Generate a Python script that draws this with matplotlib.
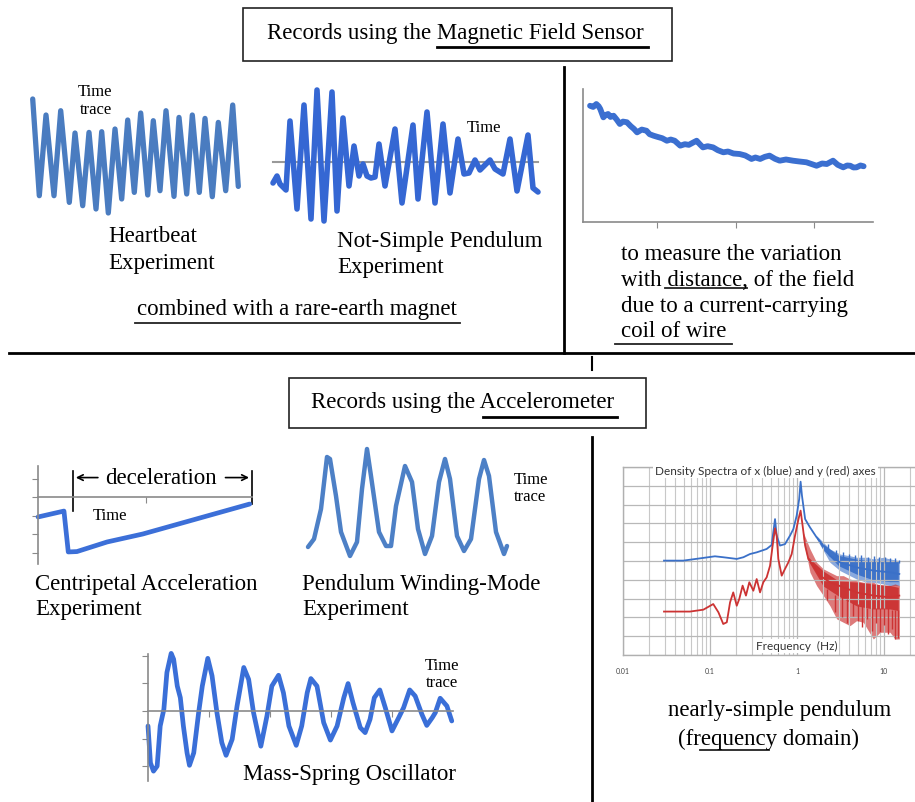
import numpy as np
import matplotlib.pyplot as plt

W, H = 915, 803
plt.rcParams['font.family'] = ['Liberation Serif', 'DejaVu Serif']

# ---------------- data ----------------
# heartbeat (magnetic field sensor), time in arbitrary units
heart_t = [1.27, 1.93, 2.6, 3.4, 4.07, 4.93, 5.5, 6.27, 6.9, 7.6, 8.17, 8.83, 9.5, 10.17,
           10.77, 11.43, 12.07, 12.77, 13.33, 14.0, 14.6, 15.4, 15.9, 16.67, 17.23, 17.93,
           18.5, 19.23, 19.83, 20.57, 21.27, 21.83]
heart_s = [11.67, 2.0, 10.07, 2.0, 10.5, 1.33, 8.27, 1.0, 8.33, 0.67, 8.4, 0.27, 8.67, 1.67,
           9.57, 2.33, 10.27, 2.07, 9.5, 2.5, 10.5, 1.93, 9.83, 2.17, 10.07, 2.33, 9.73, 1.9,
           9.33, 2.5, 11.07, 2.93]

# not-simple pendulum
pend_t = [0.8, 1.2, 1.5, 2.1, 2.5, 3.2, 3.9, 4.6, 5.2, 5.9, 6.7, 7.2, 7.8, 8.4, 8.9, 9.4, 9.8,
          10.2, 10.6, 11.0, 11.4, 12.0, 13.0, 13.7, 14.8, 15.3, 16.2, 17.0, 17.8, 18.5, 19.3,
          19.9, 20.4, 21.0, 21.5, 22.5, 23.0, 23.8, 24.5, 25.2, 26.3, 26.8, 27.3]
pend_s = [-2.1, -1.4, -2.2, -2.8, 4.1, -4.7, 5.7, -5.7, 7.2, -5.9, 7.0, -4.9, 4.4, -2.4, 1.6,
          -1.4, -0.2, -1.4, -1.6, -1.5, 1.8, -2.4, 3.3, -4.1, 3.7, -3.7, 5.0, -4.1, 3.8, -3.1,
          2.3, -1.2, -1.1, 0.2, -0.8, 0.2, -0.7, -1.2, 2.3, -2.9, 2.7, -2.6, -3.0]

# field versus distance from the coil
dist = [1.4, 1.8, 2.2, 2.5, 2.7, 3.1, 3.4, 3.7, 4.0, 4.4, 4.8, 5.2, 5.6, 6.1, 6.6, 7.0, 7.4,
        8.0, 8.6, 9.0, 9.5, 10.0, 10.6, 11.2, 11.7, 12.2, 12.9, 13.5, 14.0, 14.6, 15.0, 15.4,
        15.8, 16.4, 17.1, 17.7, 18.4, 19.0, 19.7, 20.5, 21.2, 22.0, 22.5, 23.1, 23.7, 24.3,
        25.0, 25.6, 26.4, 27.3, 28.1, 29.0, 29.7, 30.3, 31.0, 31.6, 32.4, 33.0, 33.7, 34.2,
        34.6, 35.0, 35.4, 35.9, 36.3]
field = [8.74, 8.65, 8.87, 8.7, 8.5, 7.87, 8.05, 8.12, 7.9, 7.99, 7.7, 7.37, 7.55, 7.5, 7.2,
         7.0, 6.74, 6.95, 6.86, 6.6, 6.49, 6.4, 6.3, 6.11, 6.2, 6.11, 5.74, 5.85, 5.8, 5.99,
         6.11, 5.85, 5.61, 5.7, 5.61, 5.4, 5.24, 5.3, 5.15, 5.11, 5.0, 4.74, 4.85, 4.74, 4.9,
         4.99, 4.75, 4.61, 4.7, 4.61, 4.55, 4.49, 4.35, 4.23, 4.4, 4.36, 4.61, 4.3, 4.11, 4.25,
         4.23, 4.1, 4.11, 4.25, 4.19]

# centripetal acceleration
cent_t = [0, 1.2, 1.4, 1.8, 3.2, 4.85, 6.5, 8.15, 9.8]
cent_a = [-1.08, -0.76, -2.97, -2.95, -2.43, -2.0, -1.46, -0.92, -0.38]

# pendulum winding mode
wind_t = [0.8, 1.4, 2.1, 2.7, 3.0, 3.6, 4.1, 5.0, 5.7, 6.2, 6.7, 7.1, 7.9, 8.6, 9.1, 9.6, 10.5,
          11.2, 11.8, 12.5, 13.2, 13.9, 14.5, 15.0, 15.7, 16.4, 17.1, 17.9, 18.4, 18.9, 19.6,
          20.4, 20.7]
wind_s = [1.2, 2.0, 5.0, 10.2, 10.0, 6.3, 2.7, 0.3, 1.7, 7.0, 11.0, 8.3, 2.7, 1.3, 1.3, 5.3,
          9.3, 7.7, 3.0, 0.5, 2.3, 7.7, 10.0, 8.0, 2.3, 0.8, 2.0, 8.0, 9.9, 8.3, 2.7, 0.5, 1.3]

# mass-spring oscillator
ms_t = [0, 0.04, 0.09, 0.15, 0.20, 0.26, 0.31, 0.38, 0.42, 0.48, 0.53, 0.58, 0.64, 0.68, 0.75,
        0.83, 0.89, 0.98, 1.05, 1.13, 1.21, 1.28, 1.38, 1.46, 1.57, 1.65, 1.73, 1.80, 1.85,
        1.95, 2.03, 2.14, 2.22, 2.31, 2.43, 2.52, 2.61, 2.67, 2.77, 2.88, 2.99, 3.10, 3.21,
        3.28, 3.36, 3.48, 3.56, 3.64, 3.71, 3.80, 3.89, 4.00, 4.11, 4.19, 4.29, 4.38, 4.49,
        4.57, 4.66, 4.71, 4.79, 4.90, 4.98]
ms_s = [-0.54, -1.87, -2.17, -1.99, -0.54, 0.06, 1.39, 2.08, 1.87, 0.90, 0.48, -0.54, -1.51,
        -1.96, -1.51, -0.06, 0.90, 1.90, 1.27, -0.06, -1.14, -1.60, -1.02, 0.18, 1.57, 1.14,
        -0.06, -0.78, -1.27, -0.18, 0.90, 1.29, 0.66, -0.54, -1.24, -0.54, 0.66, 1.17, 0.90,
        -0.42, -1.05, -0.54, 0.48, 0.99, 0.30, -0.60, -0.78, -0.30, 0.48, 0.76, 0.12, -0.72,
        -0.24, 0.12, 0.76, 0.54, -0.12, -0.52, -0.24, -0.06, 0.46, 0.18, -0.36]

# density spectra (log10 of PSD, arbitrary units)
blue_f = [0.0296, 0.0493, 0.0767, 0.114, 0.142, 0.203, 0.242, 0.288, 0.344, 0.393, 0.448,
          0.511, 0.559, 0.584, 0.638, 0.728, 0.831, 0.908, 0.991, 1.06, 1.10, 1.14, 1.24,
          1.41, 1.68, 2.01, 2.39, 3.12, 4.85, 7.54, 11.7, 15.0]
blue_lp = [5.02, 5.02, 5.14, 5.25, 5.20, 5.11, 5.20, 5.37, 5.46, 5.55, 5.64, 5.85, 7.23, 6.35,
           5.82, 5.90, 6.35, 6.70, 7.41, 8.30, 9.22, 8.48, 7.23, 6.79, 6.26, 5.82, 5.28, 4.93,
           4.66, 4.49, 4.40, 4.31]
# noisy band: outer envelope and dense core
blue_band_f = [1.68, 2.01, 2.39, 3.12, 4.06, 4.85, 6.32, 7.54, 9.83, 11.7, 15.0]
blue_band_hi = [6.35, 5.99, 5.64, 5.37, 5.28, 5.20, 5.20, 5.11, 5.20, 5.11, 5.02]
blue_band_lo = [6.17, 5.55, 4.93, 4.49, 4.22, 4.04, 3.87, 3.87, 3.78, 3.69, 3.69]
blue_core_f = [1.68, 2.0, 3.0, 4.85, 7.5, 11.7, 14.6]
blue_core_hi = [6.3, 5.9, 5.3, 5.1, 5.0, 5.0, 5.0]
blue_core_lo = [6.22, 5.6, 4.75, 4.3, 4.0, 3.9, 3.9]
blue_spike_f = [2.3, 2.8, 3.4, 4.0, 4.7, 5.5, 6.5, 7.6, 8.8, 10.2, 11.7, 13.3, 14.8]
blue_spike_lo = [5.4, 5.2, 5.1, 5.0, 5.0, 4.95, 4.95, 4.9, 4.9, 4.9, 4.9, 4.9, 4.9]
blue_spike_hi = [5.9, 5.6, 5.5, 5.35, 5.3, 5.3, 5.2, 5.25, 5.2, 5.2, 5.15, 5.15, 5.05]

red_f = [0.0296, 0.0589, 0.0838, 0.109, 0.125, 0.142, 0.156, 0.170, 0.185, 0.203, 0.217,
         0.237, 0.259, 0.283, 0.315, 0.344, 0.376, 0.410, 0.448, 0.490, 0.525, 0.559, 0.584,
         0.610, 0.667, 0.728, 0.796, 0.869, 0.949, 1.04, 1.10, 1.16, 1.24, 1.35, 1.54, 1.84,
         2.39, 3.41, 4.85, 7.54, 11.7, 15.0]
red_lp = [2.31, 2.31, 2.41, 2.71, 2.27, 1.65, 1.74, 2.80, 3.33, 2.62, 2.98, 3.69, 3.16, 3.87,
          3.42, 4.04, 3.33, 3.87, 4.13, 4.75, 5.82, 6.74, 6.35, 5.11, 4.22, 4.58, 4.93, 5.37,
          6.35, 7.23, 7.68, 6.88, 5.82, 5.11, 4.75, 4.22, 3.87, 3.60, 3.33, 3.16, 3.07, 3.16]
red_band_f = [1.18, 1.41, 1.68, 2.01, 2.39, 2.86, 3.41, 4.06, 4.85, 5.78, 7.54, 9.0, 11.7,
              13.4, 15.0]
red_band_hi = [6.53, 5.64, 4.93, 4.58, 4.40, 4.22, 4.22, 4.04, 3.95, 3.87, 3.87, 3.69, 3.69,
               3.78, 3.69]
red_band_lo = [6.17, 4.40, 3.69, 3.16, 2.62, 1.92, 1.74, 1.56, 1.83, 1.74, 0.85, 1.21, 1.21,
               0.85, 0.85]
red_core_f = [1.35, 2.0, 3.0, 4.85, 7.5, 11.7, 14.6]
red_core_hi = [5.2, 4.47, 3.94, 3.88, 3.78, 3.7, 3.6]
red_core_lo = [5.0, 3.67, 3.14, 2.61, 2.45, 2.45, 2.36]
red_spike_f = [2.2, 2.7, 3.3, 3.8, 4.4, 5.0, 5.6, 6.4, 7.2, 8.0, 9.0, 10.0, 11.0, 12.2, 13.4,
               14.6]
red_spike_hi = [3.5, 3.2, 3.1, 3.0, 2.8, 2.7, 2.6, 2.5, 2.5, 2.5, 2.5, 2.5, 2.5, 2.4, 2.4, 2.4]
red_spike_lo = [2.9, 2.3, 2.0, 1.7, 2.1, 1.8, 1.5, 1.9, 1.3, 1.7, 1.2, 1.6, 1.1, 1.4, 0.85, 0.9]

freq_ticks = [0.01, 0.1, 1, 10]
freq_tick_labels = ['0.01', '0.1', '1', '10']

# ---------------- figure ----------------
fig = plt.figure(figsize=(W / 100, H / 100), dpi=100)
bg = fig.add_axes([0, 0, 1, 1])
bg.set_xlim(0, W)
bg.set_ylim(H, 0)
bg.axis('off')


def panel(x0, y0, x1, y1):
    ax = fig.add_axes([x0 / W, 1 - y1 / H, (x1 - x0) / W, (y1 - y0) / H])
    ax.patch.set_alpha(0)
    return ax


def trace(ax, x, y, color, lw):
    ax.plot(x, y, color=color, lw=lw, solid_joinstyle='round', solid_capstyle='round')


def p10(v):
    return 10.0 ** np.asarray(v)


BIG = 16.5
SMALL = 12

# frames and dividers
bg.add_patch(plt.Rectangle((243, 9), 429, 53, fill=False, lw=1.2, ec='#222'))
bg.add_patch(plt.Rectangle((289, 379), 357, 50, fill=False, lw=1.2, ec='#222'))
bg.plot([9, 915], [354, 354], color='black', lw=2)
bg.plot([564, 564], [68, 354], color='black', lw=2)
bg.plot([592, 592], [358, 371], color='black', lw=1.5)
bg.plot([592, 592], [438, 803], color='black', lw=2)

# headings
bg.text(455, 33, 'Records using the Magnetic Field Sensor', fontsize=BIG, ha='center', va='center')
bg.plot([437, 648], [48, 48], color='black', lw=2)
bg.text(463, 403, 'Records using the Accelerometer', fontsize=BIG, ha='center', va='center')
bg.plot([483, 617], [418, 418], color='black', lw=2)

# labels, top half
bg.text(95, 92, 'Time', fontsize=SMALL, ha='center', va='center')
bg.text(96, 110, 'trace', fontsize=SMALL, ha='center', va='center')
bg.text(108, 236, 'Heartbeat', fontsize=BIG, va='center')
bg.text(108, 264, 'Experiment', fontsize=BIG, va='center')
bg.text(467, 128, 'Time', fontsize=SMALL, va='center')
bg.text(337, 242, 'Not-Simple Pendulum', fontsize=BIG, va='center')
bg.text(337, 268, 'Experiment', fontsize=BIG, va='center')
bg.text(137, 310, 'combined with a rare-earth magnet', fontsize=BIG, va='center')
bg.plot([135, 460], [324, 324], color='#222', lw=1.3)
for yy, line in zip([255, 281, 307, 332],
                    ['to measure the variation', 'with distance, of the field',
                     'due to a current-carrying', 'coil of wire']):
    bg.text(621, yy, line, fontsize=BIG, va='center')
bg.plot([665, 747], [289, 289], color='#222', lw=1.3)
bg.plot([615, 732], [345, 345], color='#222', lw=1.3)

# labels, bottom half
bg.text(35, 585, 'Centripetal Acceleration', fontsize=BIG, va='center')
bg.text(35, 610, 'Experiment', fontsize=BIG, va='center')
bg.text(302, 585, 'Pendulum Winding-Mode', fontsize=BIG, va='center')
bg.text(302, 610, 'Experiment', fontsize=BIG, va='center')
bg.text(514, 480, 'Time', fontsize=SMALL, va='center')
bg.text(514, 497, 'trace', fontsize=SMALL, va='center')
bg.text(425, 666, 'Time', fontsize=SMALL, va='center')
bg.text(426, 683, 'trace', fontsize=SMALL, va='center')
bg.text(243, 775, 'Mass-Spring Oscillator', fontsize=BIG, va='center')
bg.text(668, 711, 'nearly-simple pendulum', fontsize=BIG, va='center')
bg.text(678, 739, '(frequency domain)', fontsize=BIG, va='center')
bg.plot([700, 769], [751, 751], color='#222', lw=1.3)

# ---- heartbeat ----
ax = panel(20, 60, 250, 230)
ax.set_xlim(0, 23)
ax.set_ylim(-1.33, 15.67)
ax.axis('off')
trace(ax, heart_t, heart_s, '#4a7cc0', 3.8)

# ---- not-simple pendulum ----
ax = panel(265, 85, 545, 225)
ax.set_xlim(0, 28)
ax.set_ylim(-6.2, 7.8)
ax.axis('off')
ax.plot([pend_t[0], pend_t[-1]], [0, 0], color='#999999', lw=1.5)
trace(ax, pend_t, pend_s, '#3567d3', 4)

# ---- field vs distance ----
ax = panel(583, 90, 873, 223)
ax.set_xlim(0.5, 37.5)
ax.set_ylim(0, 10)
for side in ['top', 'right']:
    ax.spines[side].set_visible(False)
for side in ['left', 'bottom']:
    ax.spines[side].set_color('#8a8a8a')
    ax.spines[side].set_linewidth(1.2)
ax.set_xticks([10, 20, 30])
ax.set_yticks([])
ax.tick_params(direction='out', length=4, color='#8a8a8a', labelbottom=False)
trace(ax, dist, field, '#3b6fd0', 4.2)

# ---- centripetal ----
ax = panel(29.4, 461, 264.8, 572)
ax.set_xlim(-0.4, 10.5)
ax.set_ylim(-4.0, 2.0)
for side in ['top', 'right']:
    ax.spines[side].set_visible(False)
ax.spines['left'].set_position(('data', 0))
ax.spines['left'].set_bounds(-3.6, 1.7)
ax.spines['bottom'].set_position(('data', 0))
ax.spines['bottom'].set_bounds(0, 9.9)
for side in ['left', 'bottom']:
    ax.spines[side].set_color('#8a8a8a')
    ax.spines[side].set_linewidth(1.2)
ax.set_yticks([-3, -2, -1, 0, 1])
ax.set_xticks([5])
ax.tick_params(direction='out', length=4, color='#8a8a8a', labelleft=False, labelbottom=False)
ax.plot([1.62, 1.62], [-0.76, 1.4], color='black', lw=1.2)
ax.plot([9.9, 9.9], [-0.38, 1.4], color='black', lw=1.2)
ax.text(5.7, 1.05, 'deceleration', fontsize=BIG, ha='center', va='center')
ax.annotate('', xy=(1.62, 1.05), xytext=(2.9, 1.05),
            arrowprops=dict(arrowstyle='->', lw=1.2, color='black'))
ax.annotate('', xy=(9.9, 1.05), xytext=(8.55, 1.05),
            arrowprops=dict(arrowstyle='->', lw=1.2, color='black'))
ax.text(2.55, -0.95, 'Time', fontsize=SMALL, va='center')
trace(ax, cent_t, cent_a, '#3c6fd8', 3.4)

# ---- winding mode ----
ax = panel(300, 445, 510, 560)
ax.set_xlim(0, 21)
ax.set_ylim(0, 11.5)
ax.axis('off')
trace(ax, wind_t, wind_s, '#4d80c6', 3.2)

# ---- mass-spring ----
ax = panel(129.7, 645.5, 459.1, 788.2)
ax.set_xlim(-0.3, 5.1)
ax.set_ylim(-2.75, 2.4)
for side in ['top', 'right']:
    ax.spines[side].set_visible(False)
ax.spines['left'].set_position(('data', 0))
ax.spines['left'].set_bounds(-2.53, 2.05)
ax.spines['bottom'].set_position(('data', 0))
ax.spines['bottom'].set_bounds(0, 5.0)
for side in ['left', 'bottom']:
    ax.spines[side].set_color('#8a8a8a')
    ax.spines[side].set_linewidth(1.2)
ax.set_yticks([-2, -1, 0, 1, 2])
ax.set_xticks([1, 2, 3, 4])
ax.tick_params(direction='out', length=4, color='#8a8a8a', labelleft=False, labelbottom=False)
trace(ax, ms_t, ms_s, '#3a6fd8', 3.4)

# ---- density spectra ----
BLUE, RED = '#3a70c8', '#cc3333'
ax = panel(623, 468, 971, 656)
ax.set_xscale('log')
ax.set_yscale('log')
ax.set_xlim(0.01, 100)
ax.set_ylim(1, 1e10)
ax.set_yticks([10.0 ** k for k in range(11)])
ax.yaxis.set_minor_locator(plt.NullLocator())
ax.set_xticks(freq_ticks)
ax.set_xticklabels(freq_tick_labels, fontsize=5, color='#444', family='Lato')
ax.tick_params(which='both', length=0, labelleft=False, pad=9)
ax.grid(True, which='major', color='#b8b8b8', lw=0.9)
ax.grid(True, which='minor', axis='x', color='#c8c8c8', lw=0.8)
for side in ax.spines:
    ax.spines[side].set_color('#b0b0b0')
    ax.spines[side].set_linewidth(1)

ax.fill_between(blue_band_f, p10(blue_band_lo), p10(blue_band_hi), color=BLUE, alpha=0.6, lw=0)
ax.fill_between(blue_core_f, p10(blue_core_lo), p10(blue_core_hi), color=BLUE, alpha=0.95, lw=0)
ax.vlines(blue_spike_f, p10(blue_spike_lo), p10(blue_spike_hi), color=BLUE, lw=1)
ax.plot(blue_f, p10(blue_lp), color=BLUE, lw=1.3)

ax.fill_between(red_band_f, p10(red_band_lo), p10(red_band_hi), color=RED, alpha=0.65, lw=0)
ax.fill_between(red_core_f, p10(red_core_lo), p10(red_core_hi), color=RED, alpha=0.95, lw=0)
ax.vlines(red_spike_f, p10(red_spike_lo), p10(red_spike_hi), color=RED, lw=1)
ax.plot(red_f, p10(red_lp), color=RED, lw=1.3)

ax.text(0.0235, 10 ** 9.83, 'Density Spectra of x (blue) and y (red) axes', family='Lato',
        fontsize=8.5, color='#333', va='center', ha='left',
        bbox=dict(fc='white', ec='none', pad=1.5))
ax.text(1.0, 10 ** 0.5, 'Frequency  (Hz)', family='Lato', fontsize=8.5, color='#333',
        va='center', ha='center', bbox=dict(fc='white', ec='none', pad=1.0))

fig.savefig('out.png', dpi=100)
